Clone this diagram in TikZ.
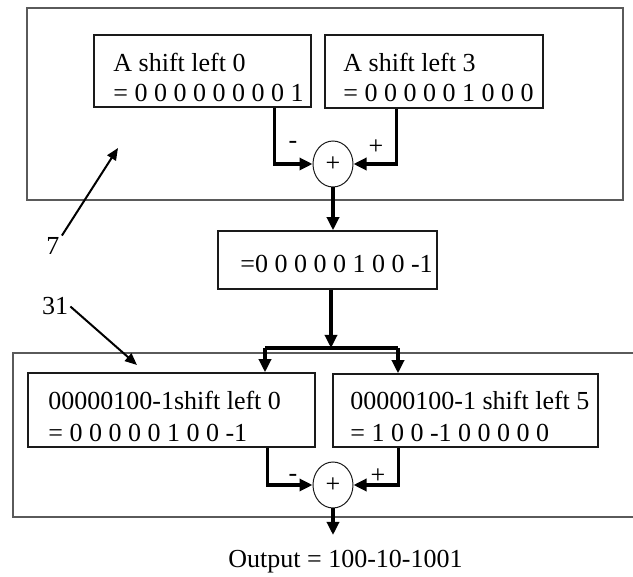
\documentclass[tikz,border=0pt]{standalone}
\usepackage{fontspec}
\setmainfont{Liberation Serif}
\usetikzlibrary{arrows.meta,shapes.geometric}
\definecolor{frame}{HTML}{5A5A5A}
\definecolor{ink}{HTML}{1A1A1A}
\tikzset{
  every picture/.style={
    font=\fontsize{13}{15}\selectfont,
    line join=miter,
  },
  box/.style={draw=ink, line width=0.75pt, rectangle, inner sep=0pt},
  adder/.style={draw=ink, line width=0.5pt, ellipse, inner sep=0pt,
    minimum width=20pt, minimum height=23pt},
  txt/.style={anchor=base west, inner sep=0pt},
  wire/.style={draw=black, line width=1.6pt},
  flow/.style={wire, -{Triangle[length=6.5pt,width=6pt]}},
  pointer/.style={line width=1pt, -{Triangle[length=6pt,width=5pt]}},
}

\begin{document}
\begin{tikzpicture}[x=0.5pt,y=-0.5pt]
\useasboundingbox (0,0) rectangle (633,577);
% the two frames of the scanned page; the lower one runs off the right edge
\draw[frame, line width=0.7pt] (27,8) rectangle (623,200);
\draw[frame, line width=0.7pt] (633,353) -- (13,353) -- (13,517) -- (633,517);

% first stage: two shifted copies of A
\node[box, minimum width=108.5pt, minimum height=36pt] (shA) at (202.5,71) {};
\node[box, minimum width=109pt, minimum height=36.5pt] (shB) at (434,71.5) {};
\node[txt] at (113,72) {A shift left 0};
\node[txt] at (113,102) {= 0 0 0 0 0 0 0 0 1};
\node[txt] at (343,72) {A shift left 3};
\node[txt] at (343,102) {= 0 0 0 0 0 1 0 0 0};
\node[adder] (sum1) at (333,164) {+};
\draw[flow] ([xshift=-18.5pt]shA.south east) |- (sum1.west);
\draw[flow] ([xshift=36pt]shB.south west) |- (sum1.east);
\node at (293,145) {-};
\node at (376,147) {+};

% recoded value
\node[box, minimum width=109.5pt, minimum height=29pt] (mid) at (327.5,260) {};
\node[txt] at (240,273) {=0 0 0 0 0 1 0 0 -1};
\draw[flow] (sum1.south) -- (sum1.south |- mid.north);

% second stage
\node[box, minimum width=143.5pt, minimum height=37pt] (shC) at (171.5,410) {};
\node[box, minimum width=132.5pt, minimum height=36.5pt] (shD) at (465.5,410.5) {};
\node[txt] at (48,410) {00000100-1shift left 0};
\node[txt] at (48,442) {= 0 0 0 0 0 1 0 0 -1};
\node[txt] at (350,410) {00000100-1 shift left 5};
\node[txt] at (350,442) {= 1 0 0 -1 0 0 0 0 0};
\coordinate (fork) at (331,348);
\coordinate (forkL) at (265,348);
\coordinate (forkR) at (398,348);
\draw[flow] (mid.south -| fork) -- (fork);
\draw[wire] (forkL) -- (forkR);
\draw[flow] (forkL) -- (forkL |- shC.north);
\draw[flow] (forkR) -- (forkR |- shD.north);
\node[adder] (sum2) at (333,485) {+};
\draw[flow] ([xshift=-24pt]shC.south east) |- (sum2.west);
\draw[flow] ([xshift=33pt]shD.south west) |- (sum2.east);
\node at (293,478) {-};
\node at (378,476) {+};
\coordinate (outTip) at (333,535);
\draw[flow] (sum2.south) -- (outTip);
\node[txt] (out) at (228,568) {Output = 100-10-1001};

% reference numbers
\node[anchor=base, inner sep=1pt] (n7) at (53,255) {7};
\coordinate (p7) at (118,148);
\draw[pointer] (n7.north east) -- (p7);
\node[anchor=base, inner sep=1pt] (n31) at (55,315) {31};
\coordinate (p31) at (137,365);
\draw[pointer] (n31.east) -- (p31);
\end{tikzpicture}
\end{document}
